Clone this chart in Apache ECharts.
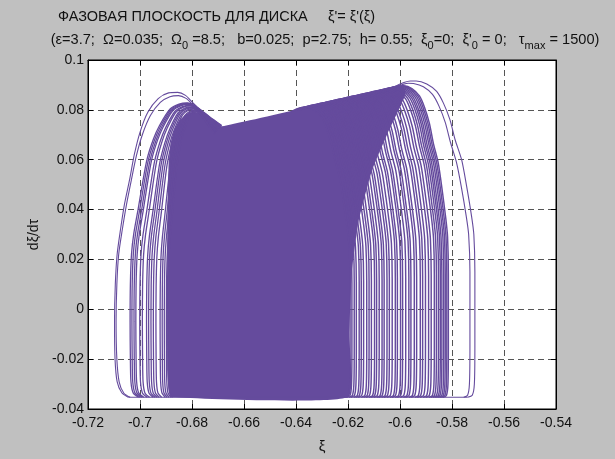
<!DOCTYPE html>
<html>
<head>
<meta charset="utf-8">
<script src="https://cdn.jsdelivr.net/npm/echarts@6/dist/echarts.min.js"></script>
<style>
  html, body { margin: 0; padding: 0; background: #c0c0c0; }
  #chart { width: 615px; height: 459px; }
</style>
</head>
<body>
<div id="chart"></div>
<script>
// ---- axes ----
const xRange = [-0.72, -0.54, 0.02];   // min, max, step (ξ)
const yRange = [-0.04, 0.10, 0.02];    // min, max, step (dξ/dτ)

// ---- trajectory data (ξ, dξ/dτ) ----
// region where the orbit has filled the phase plane completely
const denseCore = [
  [-0.6880, -0.0353], [-0.6200, -0.0353], [-0.6195, -0.0100], [-0.6185, 0.0150],
  [-0.6160, 0.0350], [-0.6110, 0.0550], [-0.6050, 0.0700], [-0.6005, 0.0800],
  [-0.5980, 0.0860], [-0.5980, 0.0884], [-0.5998, 0.0892], [-0.6030, 0.0890],
  [-0.6686, 0.0734], [-0.6720, 0.0757], [-0.6750, 0.0776], [-0.6775, 0.0788],
  [-0.6800, 0.0790], [-0.6825, 0.0780], [-0.6850, 0.0755], [-0.6870, 0.0715],
  [-0.6883, 0.0660], [-0.6890, 0.0580], [-0.6893, 0.0450], [-0.6895, 0.0300],
  [-0.6896, 0.0000], [-0.6895, -0.0250], [-0.6890, -0.0320]
];

// outermost cycles on the left
const leftOuterA = [
  [-0.7045,-0.0353],[-0.7070,-0.0335],[-0.7088,-0.0290],[-0.7096,-0.0200],[-0.7098,-0.0050],
  [-0.7095,0.0100],[-0.7088,0.0220],[-0.7075,0.0320],[-0.7060,0.0420],[-0.7040,0.0520],
  [-0.7022,0.0620],[-0.7000,0.0710],[-0.6970,0.0790],[-0.6930,0.0845],[-0.6890,0.0868],
  [-0.6855,0.0870],[-0.6825,0.0858],[-0.6800,0.0832],[-0.6770,0.0800],[-0.6730,0.0765],[-0.6690,0.0736]
];
const leftOuterB = [
  [-0.7038,-0.0353],[-0.7062,-0.0337],[-0.7080,-0.0292],[-0.7089,-0.0200],[-0.7092,-0.0050],
  [-0.7089,0.0100],[-0.7082,0.0220],[-0.7068,0.0320],[-0.7052,0.0420],[-0.7033,0.0520],
  [-0.7014,0.0615],[-0.6991,0.0700],[-0.6960,0.0777],[-0.6922,0.0830],[-0.6885,0.0853],
  [-0.6852,0.0857],[-0.6823,0.0846],[-0.6798,0.0822],[-0.6768,0.0792],[-0.6728,0.0760],[-0.6690,0.0736]
];

// outermost cycles on the right
const rightOuterA = [
  [-0.6040,0.0885],[-0.6013,0.0897],[-0.5985,0.0910],[-0.5960,0.0916],[-0.5938,0.0916],
  [-0.5897,0.0904],[-0.5859,0.0874],[-0.5833,0.0827],[-0.5808,0.0761],[-0.5788,0.0680],
  [-0.5763,0.0600],[-0.5744,0.0495],[-0.5725,0.0375],[-0.5716,0.0300],[-0.5712,0.0150],
  [-0.5712,-0.0150],[-0.5714,-0.0300],[-0.5722,-0.0345],[-0.5740,-0.0353]
];
const rightOuterB = [
  [-0.6040,0.0882],[-0.6015,0.0893],[-0.5990,0.0902],[-0.5968,0.0907],[-0.5948,0.0906],
  [-0.5910,0.0893],[-0.5875,0.0862],[-0.5850,0.0815],[-0.5826,0.0750],[-0.5806,0.0670],
  [-0.5783,0.0590],[-0.5764,0.0490],[-0.5745,0.0372],[-0.5736,0.0300],[-0.5731,0.0150],
  [-0.5731,-0.0150],[-0.5733,-0.0300],[-0.5740,-0.0345],[-0.5755,-0.0353]
];

// common return stroke along the bottom
const bottomRun = [[-0.7045, -0.0353], [-0.5740, -0.0353]];

// left flank of a cycle: [u, t] with u across from the flank (0) to the crest (1),
// t up from the floor (0) to the crest (1)
const leftFlankShape = [
  [0.146,0],[0.049,0.015],[0.010,0.053],[0,0.130],[-0.005,0.257],[0,0.385],[0.020,0.487],
  [0.059,0.555],[0.137,0.640],[0.210,0.724],[0.293,0.809],[0.405,0.877],[0.512,0.923],
  [0.698,0.979],[0.854,0.996],[1,1],[1.122,0.992],[1.244,0.975],[1.39,0.953],[1.605,0.923]
];
// left-hand cycles: [flank ξ, crest ξ, crest dξ/dτ]
const leftCycles = [
  [-0.7037,-0.6818,0.0828],[-0.7030,-0.6816,0.0826],[-0.7022,-0.6814,0.0824],[-0.7015,-0.6812,0.0822],
  [-0.7000,-0.6808,0.0818],[-0.6990,-0.6806,0.0816],
  [-0.6974,-0.6802,0.0812],[-0.6966,-0.6800,0.0810],[-0.6957,-0.6798,0.0808],
  [-0.6948,-0.6795,0.0805],[-0.6938,-0.6793,0.0803],
  [-0.6922,-0.6789,0.0799],[-0.6914,-0.6787,0.0797],[-0.6906,-0.6785,0.0795],
  [-0.6898,-0.6782,0.0793],[-0.6891,-0.6780,0.0791]
];

// right flank of a cycle: [u, t] with u from the crest (0) to the falling edge (1)
const rightFlankShape = [
  [-0.332,0.985],[-0.208,0.995],[-0.097,1],[0,1],[0.181,0.991],[0.35,0.967],[0.465,0.930],
  [0.575,0.878],[0.664,0.814],[0.774,0.751],[0.858,0.668],[0.942,0.574],[0.982,0.515],
  [1,0.396],[1,0.160],[0.991,0.042],[0.956,0.006],[0.876,0]
];
// right-hand cycles: [falling edge ξ, crest ξ, crest dξ/dτ]
const rightCycles = [
  [-0.6192,-0.6362,0.0810],[-0.6185,-0.6355,0.0811],[-0.6176,-0.6346,0.0813],[-0.6168,-0.6338,0.0815],
  [-0.6157,-0.6327,0.0818],[-0.6149,-0.6319,0.0820],[-0.6140,-0.6310,0.0822],[-0.6128,-0.6298,0.0824],
  [-0.6119,-0.6289,0.0827],[-0.6110,-0.6280,0.0829],[-0.6098,-0.6268,0.0831],[-0.6090,-0.6260,0.0833],
  [-0.6080,-0.6250,0.0836],[-0.6069,-0.6239,0.0838],[-0.6061,-0.6231,0.0840],[-0.6050,-0.6220,0.0843],
  [-0.6041,-0.6211,0.0845],[-0.6030,-0.6200,0.0847],[-0.6018,-0.6188,0.0850],[-0.6010,-0.6180,0.0852],
  [-0.5998,-0.6168,0.0855],[-0.5990,-0.6160,0.0857],[-0.5978,-0.6148,0.0859],[-0.5966,-0.6136,0.0862],
  [-0.5958,-0.6128,0.0864],[-0.5945,-0.6115,0.0867],[-0.5936,-0.6106,0.0869],[-0.5922,-0.6092,0.0872],
  [-0.5913,-0.6083,0.0875],[-0.5902,-0.6072,0.0877],[-0.5890,-0.6060,0.0880],[-0.5880,-0.6050,0.0882],
  [-0.5868,-0.6038,0.0885],[-0.5860,-0.6030,0.0887],[-0.5852,-0.6022,0.0889],[-0.5845,-0.6015,0.0890],
  [-0.5839,-0.6009,0.0892],[-0.5832,-0.6002,0.0893],[-0.5826,-0.5996,0.0895],[-0.5820,-0.5990,0.0896],
  [-0.5814,-0.5985,0.0897]
];

const FLOOR = -0.0353;

// ---- build ----
const PURPLE = '#654b9d';
const FONT = '"Liberation Sans", Arial, sans-serif';

function leftCycle([m, cx, cy]) {
  return leftFlankShape.map(([u, t]) => [m + u * (cx - m), FLOOR + t * (cy - FLOOR)]);
}
function rightCycle([r, cx, cy]) {
  return rightFlankShape.map(([u, t]) => [cx + u * (r - cx), FLOOR + t * (cy - FLOOR)]);
}

function stroke(pts, width) {
  return {
    type: 'line',
    data: pts,
    symbol: 'none',
    smooth: 0.25,
    clip: true,
    lineStyle: { color: PURPLE, width: width },
    z: 3
  };
}

const lineSeries = [leftOuterA, leftOuterB, rightOuterA, rightOuterB, bottomRun].map(p => stroke(p, 1.1))
  .concat(leftCycles.map(c => stroke(leftCycle(c), 1.3)))
  .concat(rightCycles.map(c => stroke(rightCycle(c), 1.45)));

const coreSeries = {
  type: 'custom',
  data: [denseCore[0]],
  clip: true,
  z: 2,
  renderItem: (params, api) => ({
    type: 'polygon',
    shape: { points: denseCore.map(p => api.coord(p)), smooth: 0.15 },
    style: { fill: PURPLE }
  })
};

const fmt = v => String(+(+v).toFixed(2));
const labelStyle = { color: '#111', fontSize: 14, fontFamily: FONT };
const gridLine = { show: true, lineStyle: { color: '#555', type: [6, 4], width: 1 } };
const tick = { show: true, inside: true, length: 5, lineStyle: { color: '#000' } };
const axLine = { show: true, onZero: false, lineStyle: { color: '#000', width: 1 } };

const chart = echarts.init(document.getElementById('chart'), null, { renderer: 'canvas' });
chart.setOption({
  backgroundColor: '#c0c0c0',
  animation: false,
  grid: { left: 88, top: 60, width: 468, height: 351, show: true,
          backgroundColor: '#ffffff', borderColor: '#000', borderWidth: 1 },
  xAxis: [
    { type: 'value', min: xRange[0], max: xRange[1], interval: xRange[2], position: 'bottom',
      axisLine: axLine, axisTick: tick, splitLine: gridLine,
      axisLabel: Object.assign({ margin: 7, formatter: fmt, showMinLabel: true, showMaxLabel: true }, labelStyle),
      name: 'ξ', nameLocation: 'middle', nameGap: 30,
      nameTextStyle: { color: '#111', fontSize: 15, fontFamily: FONT } },
    { type: 'value', min: xRange[0], max: xRange[1], interval: xRange[2], position: 'top',
      axisLine: axLine, axisTick: tick, splitLine: { show: false }, axisLabel: { show: false } }
  ],
  yAxis: [
    { type: 'value', min: yRange[0], max: yRange[1], interval: yRange[2], position: 'left',
      axisLine: axLine, axisTick: tick, splitLine: gridLine,
      axisLabel: Object.assign({ margin: 4, formatter: fmt, showMinLabel: true, showMaxLabel: true }, labelStyle),
      name: 'dξ/dτ', nameLocation: 'middle', nameGap: 45,
      nameTextStyle: { color: '#111', fontSize: 14, fontFamily: FONT } },
    { type: 'value', min: yRange[0], max: yRange[1], interval: yRange[2], position: 'right',
      axisLine: axLine, axisTick: tick, splitLine: { show: false }, axisLabel: { show: false } }
  ],
  graphic: [
    { type: 'text', x: 58, y: 17, z: 10,
      style: { text: 'ФАЗОВАЯ ПЛОСКОСТЬ ДЛЯ ДИСКА     ξ\'= ξ\'(ξ)', fill: '#111',
               font: '14.5px ' + FONT, align: 'left', verticalAlign: 'middle' } },
    { type: 'text', x: 325, y: 40, z: 10,
      style: {
        text: '{n|(ε=3.7;  Ω=0.035;  Ω}{s|0}{n| =8.5;   b=0.025;  p=2.75;  h= 0.55;  ξ}{s|0}{n|=0;  ξ\'}{s|0}{n| = 0;   τ}{s|max}{n| = 1500)}',
        fill: '#111', font: '14.5px ' + FONT, align: 'center', verticalAlign: 'middle',
        rich: {
          n: { fontSize: 14.6, fontFamily: FONT, lineHeight: 22, verticalAlign: 'middle', fill: '#111' },
          s: { fontSize: 11, fontFamily: FONT, lineHeight: 14, verticalAlign: 'bottom', fill: '#111' }
        }
      } }
  ],
  series: [coreSeries].concat(lineSeries)
});
</script>
</body>
</html>
